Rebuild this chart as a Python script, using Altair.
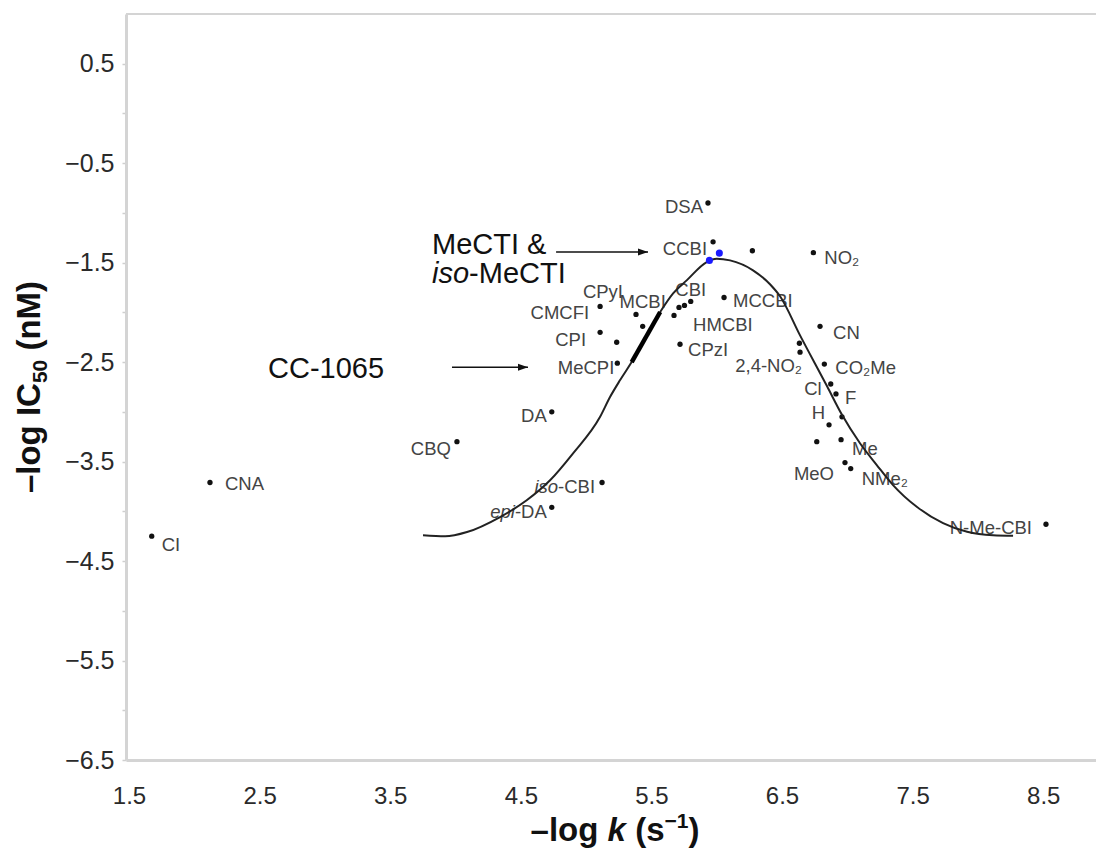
import altair as alt
import pandas as pd

FONT = "Liberation Sans"

# ---------------- compounds: -log k (s^-1) against -log IC50 (nM) ----------------
compound = ["CI", "CNA", "CBQ", "DA", "iso-CBI", "epi-DA", "DSA", "CCBI", "u1",
            "CMCFI", "CPyI", "MCBI", "CPI", "u2", "MeCPI", "HMCBI", "u3", "u4",
            "CBI", "CPzI", "MCCBI", "NO2", "CN", "u5", "2,4-NO2", "CO2Me", "Cl",
            "F", "u6", "H", "u7", "Me", "MeO", "NMe2", "N-Me-CBI"]
neg_log_k = [1.674, 2.120, 4.011, 4.737, 5.122, 4.737, 5.933, 5.972, 6.273,
             5.107, 5.382, 5.433, 5.107, 5.234, 5.239, 5.673, 5.711, 5.753,
             5.801, 5.719, 6.056, 6.740, 6.791, 6.633, 6.638, 6.824, 6.873,
             6.913, 6.959, 6.860, 6.766, 6.952, 6.982, 7.026, 8.521]
neg_log_ic50 = [-4.25, -3.71, -3.30, -3.00, -3.71, -3.96, -0.90, -1.29, -1.38,
                -1.94, -2.02, -2.14, -2.20, -2.30, -2.51, -2.03, -1.95, -1.93,
                -1.89, -2.32, -1.85, -1.40, -2.14, -2.31, -2.40, -2.52, -2.72,
                -2.82, -3.05, -3.13, -3.30, -3.28, -3.51, -3.57, -4.13]

# fitted bell-shaped curve
fit_k = [3.751, 3.920, 4.088, 4.341, 4.545, 4.724, 4.900, 5.106, 5.183, 5.259,
         5.349, 5.567, 5.666, 5.770, 5.923, 6.000, 6.102, 6.278, 6.408, 6.485,
         6.638, 6.845, 6.957, 7.097, 7.227, 7.350, 7.534, 7.733, 7.917, 8.116, 8.269]
fit_ic50 = [-4.241, -4.251, -4.208, -4.057, -3.889, -3.688, -3.417, -3.052, -2.851, -2.683,
            -2.499, -1.996, -1.809, -1.678, -1.494, -1.460, -1.477, -1.577, -1.717, -1.838,
            -2.231, -2.743, -3.025, -3.316, -3.537, -3.736, -3.957, -4.118, -4.206, -4.241, -4.246]

# CC-1065 stretch of the curve (drawn heavier)
cc1065_k = [5.349, 5.567]
cc1065_ic50 = [-2.499, -1.996]

# MeCTI and iso-MeCTI
mecti_k = [5.944, 6.020]
mecti_ic50 = [-1.477, -1.404]

# annotation arrows
arrow_start_k = [4.77, 3.973]
arrow_end_k = [5.474, 4.555]
arrow_ic50 = [-1.393, -2.552]

x_ticks = [1.5, 2.5, 3.5, 4.5, 5.5, 6.5, 7.5, 8.5]
y_ticks = [-6.5, -6.0, -5.5, -5.0, -4.5, -4.0, -3.5, -3.0, -2.5, -2.0,
           -1.5, -1.0, -0.5, 0.0, 0.5]

# ---------------- layout ----------------
LEFT, TOP = 126, 14
W, H = 970, 746
X_DOM = [1.477, 8.904]
Y_DOM = [-6.5, 1.0]
PX_X = W / (X_DOM[1] - X_DOM[0])
PX_Y = H / (Y_DOM[1] - Y_DOM[0])

LABEL_SIZE = 18.5
LABEL_COLOR = "#444444"
INK = "#111111"
AXIS_GREY = "#d4d4d4"

DISPLAY = {"NO2": "NO\u2082", "2,4-NO2": "2,4-NO\u2082", "CO2Me": "CO\u2082Me",
           "NMe2": "NMe\u2082"}
ITALIC_PREFIX = {"iso-CBI": ("iso", "-CBI"), "epi-DA": ("epi", "-DA")}
# label placement: (align, dx, dy) in pixels from the marker
LABEL_POS = {
    "CI": ("left", 10, 9), "CNA": ("left", 15, 2), "CBQ": ("right", -6, 7),
    "DA": ("right", -5, 4), "iso-CBI": ("right", -7, 5), "epi-DA": ("right", -5, 5),
    "DSA": ("right", -5, 4), "CCBI": ("right", -6, 7), "CMCFI": ("right", -11, 7),
    "CPyI": ("right", -13, -22), "MCBI": ("center", 0, -24), "CPI": ("right", -14, 8),
    "MeCPI": ("right", -3, 5), "HMCBI": ("left", 19, 10), "CBI": ("center", 0, -11),
    "CPzI": ("left", 8, 6), "MCCBI": ("left", 9, 4), "NO2": ("left", 11, 5),
    "CN": ("left", 13, 7), "2,4-NO2": ("right", 2, 14), "CO2Me": ("left", 11, 4),
    "Cl": ("right", -9, 5), "F": ("left", 9, 4), "H": ("right", -4, -12),
    "Me": ("left", 11, 9), "MeO": ("right", -11, 11), "NMe2": ("left", 11, 10),
    "N-Me-CBI": ("right", -14, 4),
}

REG = {" ": 278, "-": 333, "&": 667, "A": 667, "B": 667, "C": 722, "D": 722,
       "I": 278, "M": 833, "T": 611, "e": 556, "i": 222, "o": 556, "s": 500, "p": 556}
BOLD = {" ": 278, "\u2013": 556, "l": 278, "o": 611, "g": 611, "I": 278, "C": 722,
        "(": 333, ")": 333, "n": 611, "M": 833, "k": 556, "s": 556, "\u2212": 584}


def text_width(text, size, bold=False):
    table = BOLD if bold else REG
    return sum(table.get(ch, 556) for ch in text) * size / 1000.0


def to_k(px):
    return X_DOM[0] + (px - LEFT) / PX_X


def to_ic(py):
    return Y_DOM[1] - (py - TOP) / PX_Y


def row(k, ic, text, size, style="normal", weight="normal", align="left",
        baseline="middle", angle=0, color=INK):
    return dict(k=k, ic=ic, text=text, size=size, style=style, weight=weight,
                align=align, baseline=baseline, angle=angle, color=color)


def hruns(runs, px0, py, weight="normal", center=False):
    bold = weight == "bold"
    total = sum(text_width(t, s, bold) for t, s, _, _ in runs)
    x = px0 - total / 2 if center else px0
    out = []
    for text, size, style, rise in runs:
        if text.strip():
            out.append(row(to_k(x), to_ic(py - rise), text, size, style, weight,
                           "left", "alphabetic"))
        x += text_width(text, size, bold)
    return out


def vruns(runs, px, py_center, weight="normal"):
    bold = weight == "bold"
    total = sum(text_width(t, s, bold) for t, s, _, _ in runs)
    y = py_center + total / 2
    out = []
    for text, size, style, shift in runs:
        if text.strip():
            out.append(row(to_k(px + shift), to_ic(y), text, size, style, weight,
                           "left", "alphabetic", 270))
        y -= text_width(text, size, bold)
    return out


# ---------------- text rows ----------------
label_rows = []
for name, k, ic in zip(compound, neg_log_k, neg_log_ic50):
    if name not in LABEL_POS:
        continue
    align, dx, dy = LABEL_POS[name]
    kl, icl = k + dx / PX_X, ic - dy / PX_Y
    if name in ITALIC_PREFIX:
        pre, rest = ITALIC_PREFIX[name]
        label_rows.append(row(kl, icl, rest, LABEL_SIZE, align="right", color=LABEL_COLOR))
        w = text_width(rest, LABEL_SIZE)
        label_rows.append(row(kl - w / PX_X, icl, pre, LABEL_SIZE, style="italic",
                              align="right", color=LABEL_COLOR))
    else:
        label_rows.append(row(kl, icl, DISPLAY.get(name, name), LABEL_SIZE,
                              align=align, color=LABEL_COLOR))

note_rows = []
note_rows += hruns([("MeCTI &", 29, "normal", 0)], 432, 253.5)
note_rows += hruns([("iso", 29, "italic", 0), ("-MeCTI", 29, "normal", 0)], 432, 282.5)
note_rows += hruns([("CC-1065", 29, "normal", 0)], 268, 377.5)

title_rows = []
title_rows += hruns([("\u2013log", 33, "normal", 0), (" ", 33, "normal", 0),
                     ("k", 33, "italic", 0), (" ", 33, "normal", 0),
                     ("(s", 33, "normal", 0), ("\u22121", 21, "normal", 13),
                     (")", 33, "normal", 0)], 615, 841, weight="bold", center=True)
title_rows += vruns([("\u2013log IC", 33, "normal", 0), ("50", 21, "normal", 7),
                     (" ", 33, "normal", 0), ("(nM)", 33, "normal", 0)],
                    40, 387, weight="bold")

text_df = pd.DataFrame(label_rows + note_rows + title_rows)

# ---------------- scales and axes (shared by every layer) ----------------
xs = alt.Scale(domain=X_DOM, nice=False, zero=False)
ys = alt.Scale(domain=Y_DOM, nice=False, zero=False)
x_axis = alt.Axis(
    values=x_ticks, format=".1f", title=None, grid=False, ticks=False,
    labelPadding=24, labelFont=FONT, labelFontSize=24, labelColor="#2a2a2a",
    labelFlush=False, labelOverlap=False, domainColor=AXIS_GREY, domainWidth=3)
y_axis = alt.Axis(
    values=y_ticks, format=".1f", title=None, grid=False,
    labelExpr="datum.value % 1 == 0 ? '' : datum.label",
    tickSize=4, tickColor="#cfcfcf", tickWidth=1.5, labelPadding=8,
    labelFont=FONT, labelFontSize=25, labelColor="#2a2a2a",
    labelFlush=False, labelOverlap=False, domainColor=AXIS_GREY, domainWidth=3)
X = alt.X("k:Q", scale=xs, axis=x_axis)
Y = alt.Y("ic:Q", scale=ys, axis=y_axis)

points_df = pd.DataFrame({"compound": compound, "k": neg_log_k, "ic": neg_log_ic50})
fit_df = pd.DataFrame({"k": fit_k, "ic": fit_ic50})
cc_df = pd.DataFrame({"k": cc1065_k, "ic": cc1065_ic50})
mecti_df = pd.DataFrame({"k": mecti_k, "ic": mecti_ic50})
arrow_df = pd.DataFrame({"k": arrow_start_k, "k2": arrow_end_k, "ic": arrow_ic50})

frame_top = alt.Chart(pd.DataFrame({"edge": [0]})).mark_rule(
    color=AXIS_GREY, strokeWidth=2
).encode(x=alt.value(0), x2=alt.value(W), y=alt.value(0))

text_layers = []
for (align, baseline, style, weight, color), g in text_df.groupby(
        ["align", "baseline", "style", "weight", "color"]):
    text_layers.append(
        alt.Chart(g.reset_index(drop=True)).mark_text(
            align=align, baseline=baseline, fontStyle=style, fontWeight=weight,
            color=color, font=FONT
        ).encode(
            x=X, y=Y, text="text:N",
            size=alt.Size("size:Q", scale=None, legend=None),
            angle=alt.Angle("angle:Q", scale=None),
        )
    )

curve = alt.Chart(fit_df).mark_line(
    color="#222222", strokeWidth=2, interpolate="monotone"
).encode(x=X, y=Y)

cc_segment = alt.Chart(cc_df).mark_line(color="#000000", strokeWidth=4.5).encode(x=X, y=Y)

stars = alt.Chart(points_df).mark_point(
    filled=True, shape="circle", size=28, color=INK, opacity=1
).encode(x=X, y=Y)

mecti = alt.Chart(mecti_df).mark_circle(size=50, color="#1a1aff", opacity=1).encode(x=X, y=Y)

arrow_shaft = alt.Chart(arrow_df).mark_rule(color=INK, strokeWidth=1.4).encode(
    x=X, x2="k2:Q", y=Y)
arrow_head = alt.Chart(arrow_df).mark_point(
    shape="M0,0L-1,-0.35L-1,0.35Z", filled=True, size=400, color=INK, opacity=1
).encode(x=alt.X("k2:Q", scale=xs, axis=x_axis), y=Y)

chart = alt.layer(
    stars, frame_top, *text_layers, curve, cc_segment, mecti, arrow_shaft, arrow_head
).properties(
    width=W, height=H,
    padding={"left": LEFT, "top": TOP, "right": 0, "bottom": 859 - TOP - H},
    autosize=alt.AutoSizeParams(type="none"),
    background="white",
).configure_view(strokeWidth=0)

chart.save("out.html", embed_options={"renderer": "svg", "actions": False})
